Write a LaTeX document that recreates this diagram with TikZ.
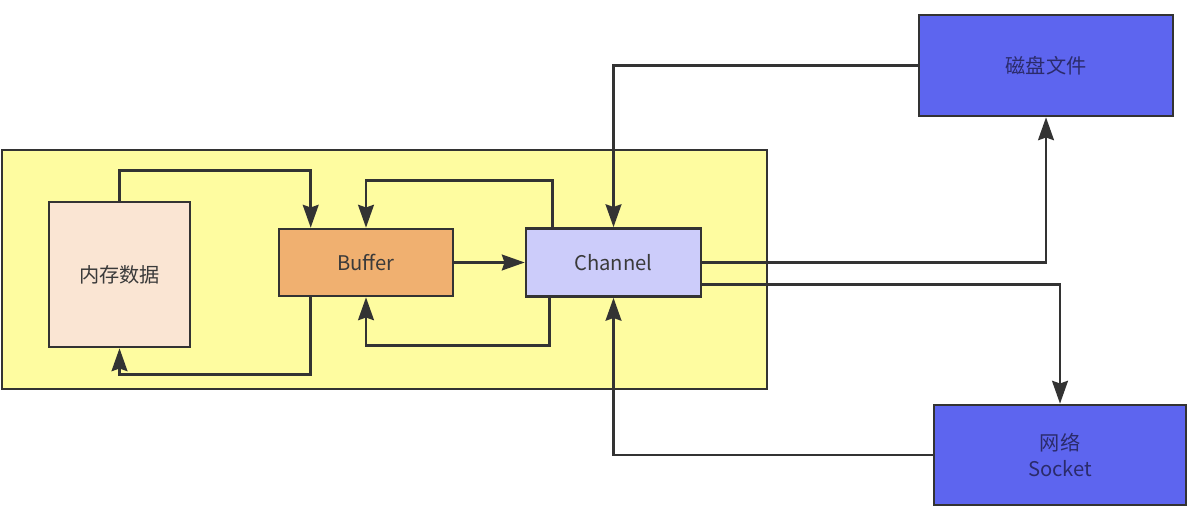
\documentclass[tikz,border=0pt]{standalone}
\usepackage{fontspec}
\newfontfamily\cjk{Noto Sans CJK SC}
\usetikzlibrary{arrows.meta,calc}
\definecolor{linec}{HTML}{333333}
\definecolor{yellowbg}{HTML}{FEFCA0}
\definecolor{memc}{HTML}{FAE5D3}
\definecolor{bufc}{HTML}{F0B070}
\definecolor{chanc}{HTML}{CCCCFA}
\definecolor{bluec}{HTML}{5D65EF}
\definecolor{txtc}{HTML}{3A3A3A}
\definecolor{txtb}{HTML}{2B2B6B}
\tikzset{
  box/.style={draw=linec, line width=1.5pt, rectangle, inner sep=0pt, font=\cjk\fontsize{11.5}{15}\selectfont, text=txtc, align=center},
  arr/.style={draw=linec, line width=1.5pt, -{Stealth[length=13pt,width=9pt,inset=1.5pt]}},
}
\begin{document}
\begin{tikzpicture}[x=0.02cm,y=-0.02cm]
\useasboundingbox (0,0) rectangle (1202,516);
\fill[white] (0,0) rectangle (1202,516);
\draw[draw=linec, fill=yellowbg, line width=1.2pt] (2,150) rectangle (767,389);
\node[box, fill=memc, minimum width=2.82cm, minimum height=2.9cm] (mem) at (119.5,274.5) {内存数据};
\node[box, fill=bufc, minimum width=3.48cm, minimum height=1.34cm] (buffer) at (366,262.5) {Buffer};
\node[box, fill=chanc, minimum width=3.5cm, minimum height=1.36cm] (channel) at (613.5,262.5) {Channel};
\node[box, fill=bluec, text=txtb, minimum width=5.08cm, minimum height=2.02cm] (disk) at (1046,65.5) {磁盘文件};
\node[box, fill=bluec, text=txtb, minimum width=5.04cm, minimum height=2.0cm] (socket) at (1060,455) {网络\\Socket};
\draw[arr] (mem.north) -- ++(0,-30) -| ($(buffer.north west)+(33,0)$);
\draw[arr] ($(buffer.south west)+(33,0)$) -- ++(0,77) -| (mem.south);
\draw[arr] ($(channel.north west)+(28,0)$) -- ++(0,-47) -| (buffer.north);
\draw[arr] ($(channel.south west)+(25,0)$) -- ++(0,48) -| (buffer.south);
\draw[arr] (buffer.east) -- (channel.west);
\draw[arr] (disk.west) -| (channel.north);
\draw[arr] (channel.east) -| (disk.south);
\draw[arr] ($(channel.east)+(0,22)$) -| (socket.north);
\draw[arr] (socket.west) -| (channel.south);
\end{tikzpicture}
\end{document}
